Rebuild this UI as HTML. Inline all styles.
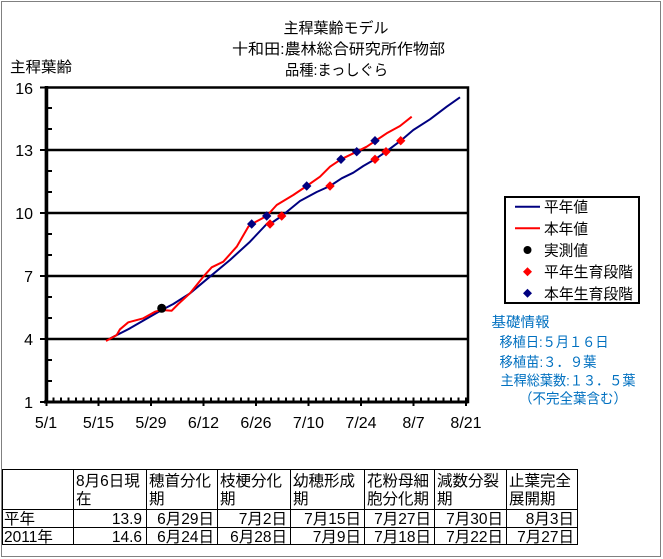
<!DOCTYPE html>
<html><head><meta charset="utf-8"><style>
html,body{margin:0;padding:0;background:#fff;}
svg{display:block;}
text{font-family:"Liberation Sans","Noto Sans CJK JP",sans-serif;}
</style></head><body>
<svg width="663" height="559" viewBox="0 0 663 559" xmlns="http://www.w3.org/2000/svg">
<rect x="0" y="0" width="663" height="559" fill="#fff"/>
<rect x="1.5" y="1.5" width="659" height="555" fill="none" stroke="#808080" stroke-width="1"/>

<!-- titles -->
<g font-size="15" fill="#000" text-anchor="middle">
<text x="336" y="33" textLength="105" lengthAdjust="spacingAndGlyphs">主稈葉齢モデル</text>
<text x="338.5" y="54" textLength="213" lengthAdjust="spacingAndGlyphs">十和田:農林総合研究所作物部</text>
<text x="336.5" y="75" textLength="103" lengthAdjust="spacingAndGlyphs">品種:まっしぐら</text>
</g>
<text x="10" y="72" font-size="15" textLength="62" lengthAdjust="spacingAndGlyphs">主稈葉齢</text>

<!-- plot area -->
<rect x="46" y="87.5" width="422" height="314.5" fill="#fff" stroke="#000" stroke-width="2.5"/>
<g stroke="#000" stroke-width="2.5">
<line x1="46" y1="150" x2="468" y2="150"/>
<line x1="46" y1="213" x2="468" y2="213"/>
<line x1="46" y1="276" x2="468" y2="276"/>
<line x1="46" y1="339" x2="468" y2="339"/>
</g>
<line x1="46.5" y1="86" x2="46.5" y2="403.5" stroke="#000" stroke-width="3.5"/>
<line x1="44" y1="402" x2="468" y2="402" stroke="#000" stroke-width="3"/>

<!-- y ticks -->
<g stroke="#000" stroke-width="2">
<line x1="40" y1="87.5" x2="46" y2="87.5"/>
<line x1="40" y1="150" x2="46" y2="150"/>
<line x1="40" y1="213" x2="46" y2="213"/>
<line x1="40" y1="276" x2="46" y2="276"/>
<line x1="40" y1="339" x2="46" y2="339"/>
<line x1="40" y1="402" x2="46" y2="402"/>
<line x1="46" y1="108" x2="52" y2="108"/>
<line x1="46" y1="129" x2="52" y2="129"/>
<line x1="46" y1="171" x2="52" y2="171"/>
<line x1="46" y1="192" x2="52" y2="192"/>
<line x1="46" y1="234" x2="52" y2="234"/>
<line x1="46" y1="255" x2="52" y2="255"/>
<line x1="46" y1="297" x2="52" y2="297"/>
<line x1="46" y1="318" x2="52" y2="318"/>
<line x1="46" y1="360" x2="52" y2="360"/>
<line x1="46" y1="381" x2="52" y2="381"/>
</g>
<!-- x ticks -->
<g stroke="#000" stroke-width="2">
<line x1="46.5" y1="402" x2="46.5" y2="406"/>
<line x1="98.5" y1="402" x2="98.5" y2="406"/>
<line x1="151" y1="402" x2="151" y2="406"/>
<line x1="203.5" y1="402" x2="203.5" y2="406"/>
<line x1="256" y1="402" x2="256" y2="406"/>
<line x1="308.5" y1="402" x2="308.5" y2="406"/>
<line x1="361" y1="402" x2="361" y2="406"/>
<line x1="413.5" y1="402" x2="413.5" y2="406"/>
<line x1="466" y1="402" x2="466" y2="406"/>
</g>
<path stroke="#000" stroke-width="2" fill="none" d="
M53.5 402V397.5 M61 402V397.5 M68.5 402V397.5 M76 402V397.5 M83.5 402V397.5 M91 402V397.5 M98.5 402V397.5
M106 402V397.5 M113.5 402V397.5 M121 402V397.5 M128.5 402V397.5 M136 402V397.5 M143.5 402V397.5 M151 402V397.5
M158.5 402V397.5 M166 402V397.5 M173.5 402V397.5 M181 402V397.5 M188.5 402V397.5 M196 402V397.5 M203.5 402V397.5
M211 402V397.5 M218.5 402V397.5 M226 402V397.5 M233.5 402V397.5 M241 402V397.5 M248.5 402V397.5 M256 402V397.5
M263.5 402V397.5 M271 402V397.5 M278.5 402V397.5 M286 402V397.5 M293.5 402V397.5 M301 402V397.5 M308.5 402V397.5
M316 402V397.5 M323.5 402V397.5 M331 402V397.5 M338.5 402V397.5 M346 402V397.5 M353.5 402V397.5 M361 402V397.5
M368.5 402V397.5 M376 402V397.5 M383.5 402V397.5 M391 402V397.5 M398.5 402V397.5 M406 402V397.5 M413.5 402V397.5
M421 402V397.5 M428.5 402V397.5 M436 402V397.5 M443.5 402V397.5 M451 402V397.5 M458.5 402V397.5 M466 402V397.5"/>

<!-- tick labels -->
<g font-size="16" fill="#000" text-anchor="end">
<text x="33" y="94">16</text>
<text x="33" y="156">13</text>
<text x="33" y="219">10</text>
<text x="33" y="282">7</text>
<text x="33" y="345">4</text>
<text x="33" y="408">1</text>
</g>
<g font-size="16" fill="#000" text-anchor="middle">
<text x="46" y="428">5/1</text>
<text x="98.5" y="428">5/15</text>
<text x="151" y="428">5/29</text>
<text x="203.5" y="428">6/12</text>
<text x="256" y="428">6/26</text>
<text x="308.5" y="428">7/10</text>
<text x="361" y="428">7/24</text>
<text x="413.5" y="428">8/7</text>
<text x="466" y="428">8/21</text>
</g>

<!-- series -->
<polyline fill="none" stroke="#000080" stroke-width="2" stroke-linejoin="round" points="110,338.5 130,328.3 161.7,310 173.3,304 190,293.3 206.7,279.3 230,260 250,241.7 266.7,224 270,224 281.7,216 300,201 316.7,192 330,186 341.7,178.3 353.3,172.7 363.3,166 375,159.3 386,151.7 400.7,140.7 413.3,130 430,119.3 446.7,106.7 460,97.3"/>
<polyline fill="none" stroke="#ff0000" stroke-width="2" stroke-linejoin="round" points="106,341 116.7,335 120,329.3 128.3,322.3 143.3,318.3 155,311.7 161.7,310 171.7,310.7 178.3,304 190,293.3 203.3,276.7 211.7,267.3 223.3,261.7 236.7,246.7 248.3,226.7 251.7,224 266.7,216 276.7,205 293.3,195 306.7,186 320,176.7 330,166.7 341,159.3 356.7,151.7 366.7,146.7 376.7,140 386.7,133.3 400,126 411.7,116.7"/>

<circle cx="161.7" cy="308.3" r="4.5" fill="#000"/>

<g fill="#ff0000">
<path d="M270 219.3l4.7 4.7-4.7 4.7-4.7-4.7z"/>
<path d="M281.7 211.3l4.7 4.7-4.7 4.7-4.7-4.7z"/>
<path d="M330 181.3l4.7 4.7-4.7 4.7-4.7-4.7z"/>
<path d="M375 154.6l4.7 4.7-4.7 4.7-4.7-4.7z"/>
<path d="M386 147l4.7 4.7-4.7 4.7-4.7-4.7z"/>
<path d="M400.7 136l4.7 4.7-4.7 4.7-4.7-4.7z"/>
</g>
<g fill="#000080">
<path d="M251.7 219.3l4.7 4.7-4.7 4.7-4.7-4.7z"/>
<path d="M266.7 211.3l4.7 4.7-4.7 4.7-4.7-4.7z"/>
<path d="M306.7 181.3l4.7 4.7-4.7 4.7-4.7-4.7z"/>
<path d="M341 154.6l4.7 4.7-4.7 4.7-4.7-4.7z"/>
<path d="M356.7 147l4.7 4.7-4.7 4.7-4.7-4.7z"/>
<path d="M375 136l4.7 4.7-4.7 4.7-4.7-4.7z"/>
</g>

<!-- legend -->
<rect x="505" y="197" width="134" height="106" fill="#fff" stroke="#000" stroke-width="2"/>
<line x1="515" y1="206.7" x2="540" y2="206.7" stroke="#000080" stroke-width="2"/>
<line x1="515" y1="228.3" x2="540" y2="228.3" stroke="#ff0000" stroke-width="2"/>
<circle cx="527.5" cy="250" r="4" fill="#000"/>
<path d="M527.5 267.2l4.5 4.5-4.5 4.5-4.5-4.5z" fill="#ff0000"/>
<path d="M527.5 288.8l4.5 4.5-4.5 4.5-4.5-4.5z" fill="#000080"/>
<g font-size="15" fill="#000">
<text x="544" y="212" textLength="44" lengthAdjust="spacingAndGlyphs">平年値</text>
<text x="544" y="234" textLength="44" lengthAdjust="spacingAndGlyphs">本年値</text>
<text x="544" y="255.5" textLength="44" lengthAdjust="spacingAndGlyphs">実測値</text>
<text x="544" y="277" textLength="89" lengthAdjust="spacingAndGlyphs">平年生育段階</text>
<text x="544" y="299" textLength="89" lengthAdjust="spacingAndGlyphs">本年生育段階</text>
</g>

<!-- info -->
<g font-size="14" fill="#0070c0">
<text x="491.5" y="327" textLength="58" lengthAdjust="spacingAndGlyphs">基礎情報</text>
<text x="499.5" y="347" textLength="109" lengthAdjust="spacingAndGlyphs">移植日:５月１６日</text>
<text x="499.5" y="367" textLength="97" lengthAdjust="spacingAndGlyphs">移植苗:３．９葉</text>
<text x="500.5" y="385.5" textLength="135" lengthAdjust="spacingAndGlyphs">主稈総葉数:１３．５葉</text>
<text x="519" y="403.5" textLength="108" lengthAdjust="spacingAndGlyphs">（不完全葉含む）</text>
</g>

<!-- table -->
<g stroke="#000" stroke-width="1" fill="none">
<rect x="2.5" y="469.5" width="575" height="75"/>
<line x1="2.5" y1="509.5" x2="577.5" y2="509.5"/>
<line x1="2.5" y1="527.5" x2="577.5" y2="527.5"/>
<line x1="73.5" y1="469.5" x2="73.5" y2="544.5"/>
<line x1="146.5" y1="469.5" x2="146.5" y2="544.5"/>
<line x1="217.5" y1="469.5" x2="217.5" y2="544.5"/>
<line x1="290.5" y1="469.5" x2="290.5" y2="544.5"/>
<line x1="364.5" y1="469.5" x2="364.5" y2="544.5"/>
<line x1="434.5" y1="469.5" x2="434.5" y2="544.5"/>
<line x1="506.5" y1="469.5" x2="506.5" y2="544.5"/>
</g>
<g font-size="15.5" fill="#000">
<text x="76" y="486">8月6日現</text><text x="76" y="504">在</text>
<text x="149" y="486">穂首分化</text><text x="149" y="504">期</text>
<text x="220" y="486">枝梗分化</text><text x="220" y="504">期</text>
<text x="293" y="486">幼穂形成</text><text x="293" y="504">期</text>
<text x="367" y="486">花粉母細</text><text x="367" y="504">胞分化期</text>
<text x="437" y="486">減数分裂</text><text x="437" y="504">期</text>
<text x="509" y="486">止葉完全</text><text x="509" y="504">展開期</text>
<text x="4" y="524">平年</text>
<text x="4" y="542">2011年</text>
</g>
<g font-size="15.5" fill="#000" text-anchor="end">
<text x="142" y="524">13.9</text>
<text x="214" y="524">6月29日</text>
<text x="287" y="524">7月2日</text>
<text x="361" y="524">7月15日</text>
<text x="431" y="524">7月27日</text>
<text x="503" y="524">7月30日</text>
<text x="574" y="524">8月3日</text>
<text x="142" y="542">14.6</text>
<text x="214" y="542">6月24日</text>
<text x="287" y="542">6月28日</text>
<text x="361" y="542">7月9日</text>
<text x="431" y="542">7月18日</text>
<text x="503" y="542">7月22日</text>
<text x="574" y="542">7月27日</text>
</g>
</svg>
</body></html>
